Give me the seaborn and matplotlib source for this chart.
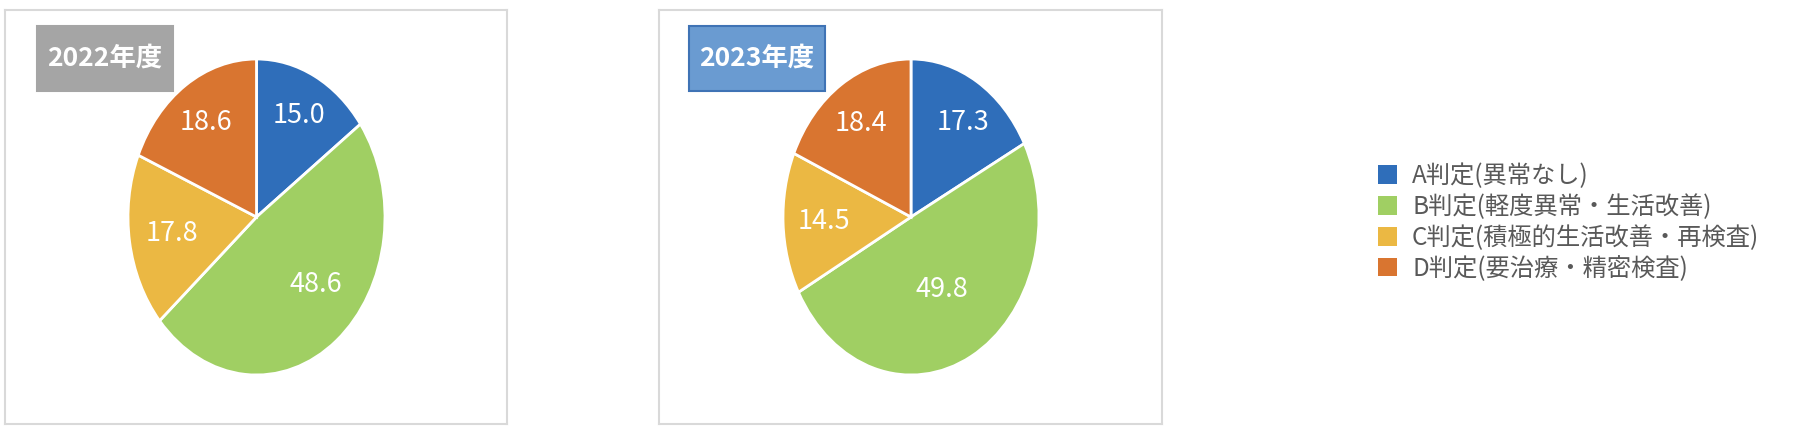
import matplotlib
matplotlib.use("Agg")
import matplotlib.pyplot as plt
from matplotlib.patches import Rectangle, Patch
import numpy as np
import seaborn as sns

# --- data -----------------------------------------------------------------
categories = ["A判定(異常なし)", "B判定(軽度異常・生活改善)",
              "C判定(積極的生活改善・再検査)", "D判定(要治療・精密検査)"]
years = ["2022年度", "2023年度"]
values_2022 = [15.0, 48.6, 17.8, 18.6]
values_2023 = [17.3, 49.8, 14.5, 18.4]

# --- style ----------------------------------------------------------------
sns.set_theme(style="white")
plt.rcParams["font.family"] = ["Noto Sans CJK JP", "DejaVu Sans"]
palette = sns.color_palette(["#2F6EBA", "#A0CF63", "#EBB843", "#D97530"])

W, H = 1808, 434
fig = plt.figure(figsize=(W / 100, H / 100), dpi=100)
fig.patch.set_facecolor("white")


def px_axes(x0, y0, x1, y1):
    """Axes from pixel box (top-left origin)."""
    return fig.add_axes([x0 / W, 1 - y1 / H, (x1 - x0) / W, (y1 - y0) / H])


panels = [
    dict(values=values_2022, title=years[0], frame=(5, 10, 507, 424),
         pie=(128, 59, 385, 375), box=(37, 26, 173, 91),
         box_face="#A5A5A5", box_edge="#A5A5A5",
         label_r=[0.72, 0.63, 0.67, 0.72], label_da=[0, 9, 0, 0]),
    dict(values=values_2023, title=years[1], frame=(659, 10, 1162, 424),
         pie=(783, 59, 1039, 375), box=(689, 26, 825, 91),
         box_face="#6A9BD1", box_edge="#3F73B5",
         label_r=[0.72, 0.52, 0.68, 0.71], label_da=[-3, 0, 0, 0]),
]

for p in panels:
    # chart frame
    fr = px_axes(*p["frame"])
    fr.set_xticks([])
    fr.set_yticks([])
    for s in fr.spines.values():
        s.set_color("#D9D9D9")
        s.set_linewidth(1.5)

    # pie drawn on an axes whose box defines the (slightly oval) shape
    ax = px_axes(*p["pie"])
    wedges, _ = ax.pie(p["values"], colors=palette, startangle=90,
                       counterclock=False, radius=1.0,
                       wedgeprops=dict(edgecolor="white", linewidth=2))
    ax.set_aspect("auto")
    ax.set_xlim(-1, 1)
    ax.set_ylim(-1, 1)
    ax.axis("off")

    for w, v, r, da in zip(wedges, p["values"], p["label_r"], p["label_da"]):
        mid = np.deg2rad((w.theta1 + w.theta2) / 2 + da)
        ax.text(r * np.cos(mid), r * np.sin(mid), f"{v:.1f}",
                ha="center", va="center", color="white", fontsize=19.5)

    # year badge
    bx0, by0, bx1, by1 = p["box"]
    fig.patches.append(Rectangle((bx0 / W, 1 - by1 / H), (bx1 - bx0) / W,
                                 (by1 - by0) / H, transform=fig.transFigure,
                                 facecolor=p["box_face"], edgecolor=p["box_edge"],
                                 linewidth=1.5, zorder=5))
    fig.text((bx0 + bx1) / 2 / W, 1 - (by0 + by1) / 2 / H, p["title"],
             ha="center", va="center", color="white", fontsize=19,
             fontweight="bold", zorder=6)

handles = [Patch(facecolor=c, edgecolor="none") for c in palette]
fig.legend(handles, categories, loc="upper left",
           bbox_to_anchor=(1378 / W, 1 - 163 / H), frameon=False,
           fontsize=17.5, labelcolor="#595959", handlelength=0.8,
           handleheight=0.8, handletextpad=0.6, labelspacing=0.2,
           borderpad=0, borderaxespad=0)

fig.savefig("out.png", dpi=100, facecolor="white")
